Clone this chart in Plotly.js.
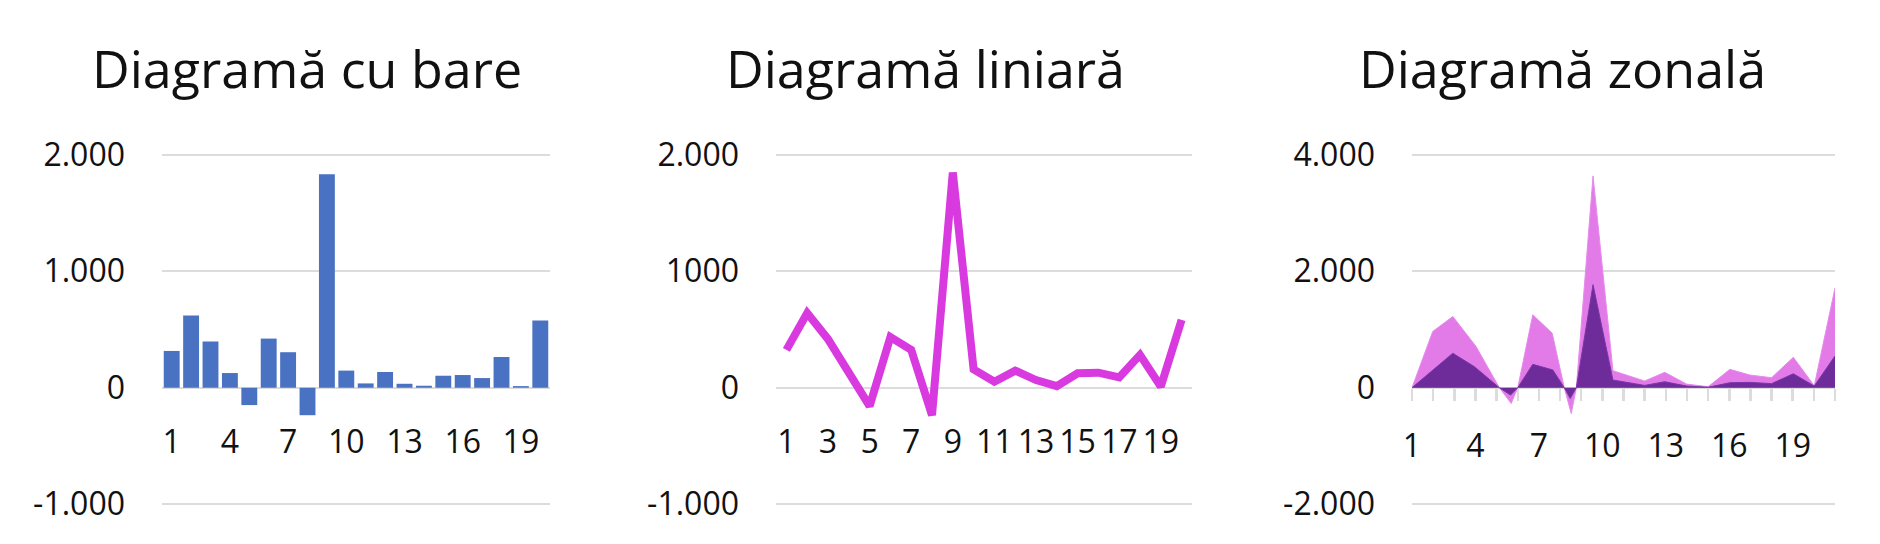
<!DOCTYPE html>
<html>
<head>
<meta charset="utf-8">
<script src="https://cdn.plot.ly/plotly-3.0.1.min.js"></script>
<style>
  html, body { margin: 0; padding: 0; background: #fff; }
  #plot { width: 1880px; height: 544px; }
</style>
</head>
<body>
<div id="plot"></div>
<script>
// values
const categories = [1, 2, 3, 4, 5, 6, 7, 8, 9, 10, 11, 12, 13, 14, 15, 16, 17, 18, 19, 20];
const barValues = [316, 621, 397, 126, -149, 422, 305, -236, 1833, 147, 37, 135, 34, 17, 103, 109, 83, 264, 14, 578];
const lineValues = [325, 641, 417, 130, -158, 434, 325, -236, 1848, 158, 52, 147, 66, 14, 124, 129, 89, 282, 9, 583];

// area chart: outer (light) envelope and inner (dark) series
const areaOuterX = [1, 1.98, 2.93, 4.03, 5.13, 5.69, 6.0, 6.71, 7.63, 8.2, 8.53, 8.77, 9.56, 10.5, 12, 12.95, 13.98, 15, 16.03, 16.97, 18, 19.03, 20.02, 21];
const areaOuterY = [0, 966, 1224, 707, 0, -270, 0, 1253, 937, 0, -443, 0, 3638, 293, 115, 264, 63, 17, 316, 218, 172, 523, 34, 1713];
const areaInnerX = [1, 2.93, 3.95, 5.13, 5.66, 6.0, 6.71, 7.66, 8.2, 8.48, 8.77, 9.56, 10.5, 12, 12.95, 13.98, 15, 16.03, 16.97, 18, 19.03, 20.02, 21];
const areaInnerY = [0, 592, 362, 0, -126, 0, 402, 305, 0, -184, 0, 1770, 132, 40, 103, 29, 8, 86, 92, 70, 240, 29, 546];

const titles = ['Diagramă cu bare', 'Diagramă liniară', 'Diagramă zonală'];
const titleCenters = [307, 925, 1562];

const barTicks = [1, 4, 7, 10, 13, 16, 19];
const lineTicks = [1, 3, 5, 7, 9, 11, 13, 15, 17, 19];
const areaTicks = [1, 4, 7, 10, 13, 16, 19];

const yTickVals1 = [2000, 1000, 0, -1000];
const yTickText1 = ['2.000', '1.000', '0', '-1.000'];
const yTickVals2 = [2000, 1000, 0, -1000];
const yTickText2 = ['2.000', '1000', '0', '-1.000'];
const yTickVals3 = [4000, 2000, 0, -2000];
const yTickText3 = ['4.000', '2.000', '0', '-2.000'];

const W = 1880, H = 544;
const FONT = '"Open Sans", "DejaVu Sans", sans-serif';
const GRID = '#dcdcdc';
const TICKSIZE = 32;

// pixel layout helpers
const px = (a, b) => [a / W, b / W];
const yDom = [1 - 510 / H, 1 - 149 / H];
const zeroPos = 1 - 388 / H;

const traces = [
    {
        x: categories,
        y: barValues,
        type: 'bar',
        marker: { color: '#4a72c3' },
        xaxis: 'x',
        yaxis: 'y'
    },
    {
        x: categories,
        y: lineValues,
        type: 'scatter',
        mode: 'lines',
        line: { color: '#d83ae0', width: 8 },
        xaxis: 'x2',
        yaxis: 'y2'
    },
    {
        x: areaOuterX,
        y: areaOuterY,
        type: 'scatter',
        mode: 'lines',
        fill: 'tozeroy',
        fillcolor: '#e27be8',
        line: { color: '#e68aec', width: 1 },
        xaxis: 'x3',
        yaxis: 'y3'
    },
    {
        x: areaInnerX,
        y: areaInnerY,
        type: 'scatter',
        mode: 'lines',
        fill: 'tozeroy',
        fillcolor: '#6d2c99',
        line: { color: '#7a35a6', width: 1 },
        xaxis: 'x3',
        yaxis: 'y3'
    }
];

function yAxis(anchor, vals, text, range) {
    return {
        domain: yDom,
        anchor,
        range,
        tickmode: 'array',
        tickvals: vals,
        ticktext: text,
        showgrid: true,
        gridcolor: GRID,
        gridwidth: 2,
        zeroline: false,
        showline: false,
        ticks: '',
        ticklabelstandoff: 36,
        tickfont: { family: FONT, size: TICKSIZE, color: '#111' },
        fixedrange: true
    };
}

function xAxis(domain, vals, range) {
    return {
        domain,
        range,
        anchor: 'free',
        position: zeroPos,
        tickmode: 'array',
        tickvals: vals,
        ticktext: vals.map(String),
        showgrid: false,
        zeroline: false,
        showline: false,
        ticks: '',
        ticklabelstandoff: 32,
        tickfont: { family: FONT, size: TICKSIZE, color: '#111' },
        fixedrange: true
    };
}

const xa3 = xAxis(px(1412, 1835), areaTicks, [1, 21]);
xa3.ticks = 'outside';
xa3.ticklen = 12;
xa3.tickwidth = 2.5;
xa3.tickcolor = GRID;
xa3.ticklabelstandoff = 18;
xa3.minor = { tickmode: 'linear', tick0: 1, dtick: 1, ticks: 'outside', ticklen: 12, tickwidth: 2.5, tickcolor: GRID, showgrid: false };

const layout = {
    width: W,
    height: H,
    margin: { l: 0, r: 0, t: 0, b: 0 },
    paper_bgcolor: '#fff',
    plot_bgcolor: 'rgba(0,0,0,0)',
    showlegend: false,
    bargap: 0.18,
    xaxis: xAxis(px(162, 550), barTicks, [0.5, 20.5]),
    yaxis: yAxis('x', yTickVals1, yTickText1, [-1050, 2050]),
    xaxis2: xAxis(px(776, 1192), lineTicks, [0.5, 20.5]),
    yaxis2: yAxis('x2', yTickVals2, yTickText2, [-1050, 2050]),
    xaxis3: xa3,
    yaxis3: yAxis('x3', yTickVals3, yTickText3, [-2100, 4100]),
    annotations: titles.map((t, i) => ({
        text: t,
        xref: 'paper',
        yref: 'paper',
        x: titleCenters[i] / W,
        y: 1 - 67 / H,
        xanchor: 'center',
        yanchor: 'middle',
        showarrow: false,
        font: { family: FONT, size: 52, color: '#111' }
    }))
};

Plotly.newPlot('plot', traces, layout, { staticPlot: true, displayModeBar: false });
</script>
</body>
</html>
